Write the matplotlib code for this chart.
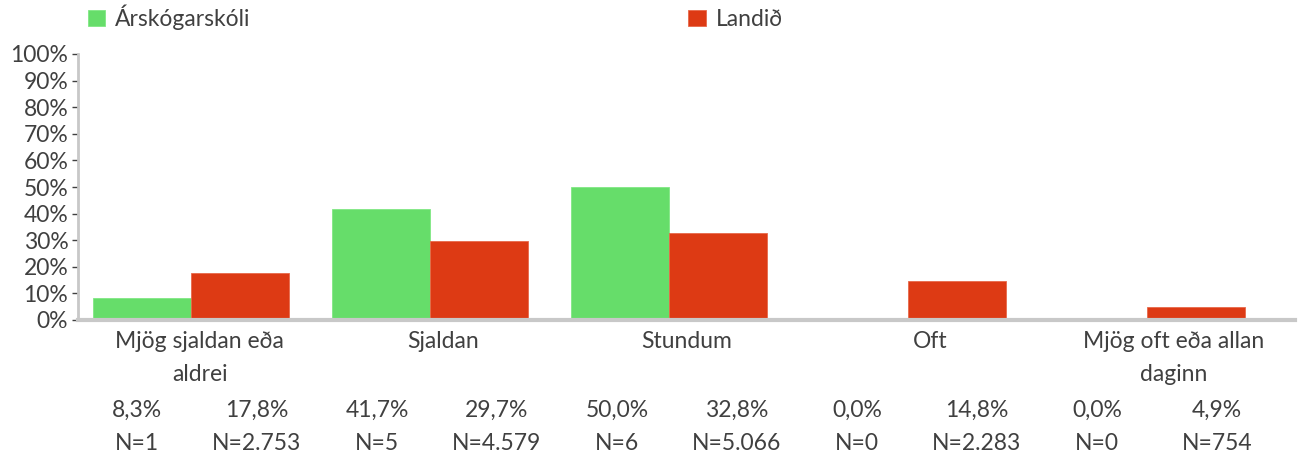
import matplotlib
matplotlib.use("Agg")
import matplotlib.pyplot as plt
import numpy as np

# Data
categories = ["Mjög sjaldan eða\naldrei", "Sjaldan", "Stundum", "Oft", "Mjög oft eða allan\ndaginn"]
skoli = [8.3, 41.7, 50.0, 0.0, 0.0]
landid = [17.8, 29.7, 32.8, 14.8, 4.9]
skoli_n = ["N=1", "N=5", "N=6", "N=0", "N=0"]
landid_n = ["N=2.753", "N=4.579", "N=5.066", "N=2.283", "N=754"]
series_names = ["Árskógarskóli", "Landið"]

green = "#66dd6a"
red = "#dd3a14"
text_col = "#404040"
grey = "#c8c8c8"
fs = 16.5

plt.rcParams["font.family"] = ["Lato", "DejaVu Sans"]
plt.rcParams["font.size"] = fs

fig = plt.figure(figsize=(13.03, 4.58), dpi=100)
ax = fig.add_axes([78 / 1303, 1 - 320 / 458, 1217 / 1303, 266 / 458])

x = np.arange(len(categories))
w = 0.41
b1 = ax.bar(x - w / 2, skoli, w, color=green, edgecolor="#80e884", linewidth=0.6, label=series_names[0])
b2 = ax.bar(x + w / 2, landid, w, color=red, edgecolor="#e8694a", linewidth=0.6, label=series_names[1])

x0, x1 = -0.473, 4.62
ax.set_xlim(x0, x1)
ax.set_ylim(0, 100)
ax.set_yticks(range(0, 101, 10))
ax.set_yticklabels([f"{v}%" for v in range(0, 101, 10)], color=text_col)
ax.tick_params(axis="y", length=4, width=1, color=text_col, pad=3, labelsize=fs)

# category labels sit evenly across the full axis width
n = len(categories)
ax.set_xticks([x0 + (i + 0.5) / n * (x1 - x0) for i in range(n)])
ax.set_xticklabels(categories, color=text_col, linespacing=1.7)
ax.tick_params(axis="x", length=0, pad=8, labelsize=fs)

for s in ["top", "right"]:
    ax.spines[s].set_visible(False)
ax.spines["left"].set_color(grey)
ax.spines["left"].set_linewidth(2)
ax.spines["bottom"].set_color(grey)
ax.spines["bottom"].set_linewidth(3)

# Value / N table under the axis
col_w = 120 / 1217
for i in range(n):
    for j, (vals, ns) in enumerate([(skoli, skoli_n), (landid, landid_n)]):
        k = 2 * i + j
        xf = (137 - 78) / 1217 + k * col_w
        pct = f"{vals[i]:.1f}%".replace(".", ",")
        ax.text(xf, -(410 - 320) / 266, pct, transform=ax.transAxes,
                ha="center", va="center", color=text_col, fontsize=fs)
        ax.text(xf, -(443 - 320) / 266, ns[i], transform=ax.transAxes,
                ha="center", va="center", color=text_col, fontsize=fs)

fig.legend(handles=[b1, b2], loc="upper left", bbox_to_anchor=(74 / 1303, 1.02),
           ncol=2, frameon=False, handlelength=0.75, handleheight=0.75,
           handletextpad=0.45, columnspacing=19.1, fontsize=fs,
           labelcolor=text_col, borderaxespad=0.2)

fig.savefig("out.png", dpi=100)
